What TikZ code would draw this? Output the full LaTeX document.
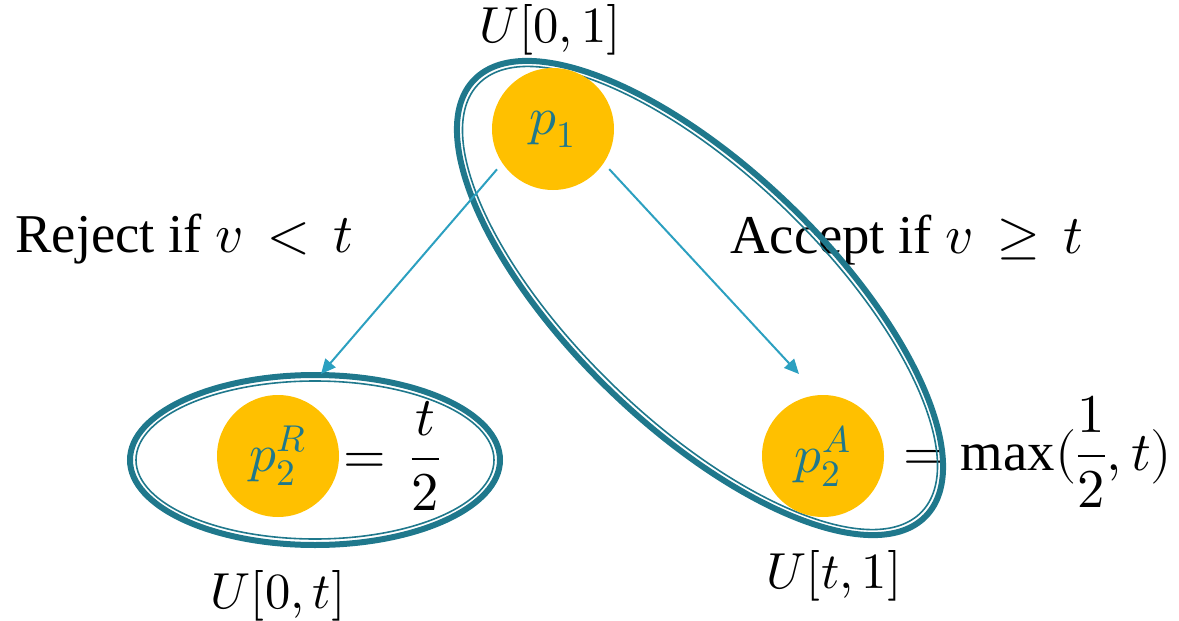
\documentclass[tikz,border=0pt]{standalone}
\usepackage{fontspec}
\usepackage{unicode-math}
\setmainfont{Liberation Serif}
\usetikzlibrary{arrows.meta}
\definecolor{ring}{RGB}{31,120,140}
\definecolor{flow}{RGB}{44,160,192}
\definecolor{gold}{RGB}{255,192,0}
\begin{document}
\begin{tikzpicture}[x=0.75pt,y=-0.75pt,
  token/.style={circle, fill=gold, minimum size=91.5pt, inner sep=0pt,
    text=ring, font=\fontsize{40}{46}\selectfont},
  lbl/.style={inner sep=0pt, font=\fontsize{38}{44}\selectfont},
  cond/.style={inner sep=0pt, font=\fontsize{41}{48}\selectfont},
  flowarrow/.style={draw=flow, line width=1.5pt, shorten <=6pt,
    -{Triangle[length=11pt,width=10pt]}},
  thickring/.style={draw=ring, line width=4.5pt},
  thinring/.style={draw=ring, line width=1.2pt}]
\useasboundingbox (0,0) rectangle (1179,621);

% text labels
\node[lbl, anchor=base] (u01) at (550,42) {$U[0,1]$};
\node[lbl, anchor=base] (u0t) at (278,608) {$U[0,t]$};
\node[lbl, anchor=base] (ut1) at (834,588) {$U[t,1]$};
\node[cond, anchor=base west] (rej) at (15,252) {Reject if $v\,<\,t$};
\node[cond, anchor=base west] (acc) at (730,253) {Accept if $v\,\geq\,t$};
\node[cond, anchor=base west] (eqR) at (343,473) {$=\,\dfrac{t}{2}$};
\node[cond, anchor=base west] (eqA) at (903,470) {$=\max(\dfrac{1}{2},t)$};

% grouping rings (thick outer line, thin inner line)
\draw[thickring] (315,460) ellipse [x radius=138.75pt, y radius=63.75pt];
\draw[thinring]  (315,460) ellipse [x radius=134.25pt, y radius=59.25pt];
\draw[thickring, rotate around={-44:(700,298)}] (700,298)
  ellipse [x radius=235.5pt, y radius=96.75pt];
\draw[thinring, rotate around={-44:(700,298)}] (700,298)
  ellipse [x radius=231pt, y radius=92.25pt];

% price nodes
\node[token] (p1)  at (553,129) {$p_1$};
\node[token] (p2R) at (278,456) {$p_2^R$};
\node[token] (p2A) at (823,456) {$p_2^A$};

% branches
\coordinate (rtip) at (321,374);
\coordinate (atip) at (799,374);
\draw[flowarrow] (p1.214) -- (rtip);
\draw[flowarrow] (p1.326) -- (atip);
\end{tikzpicture}
\end{document}
